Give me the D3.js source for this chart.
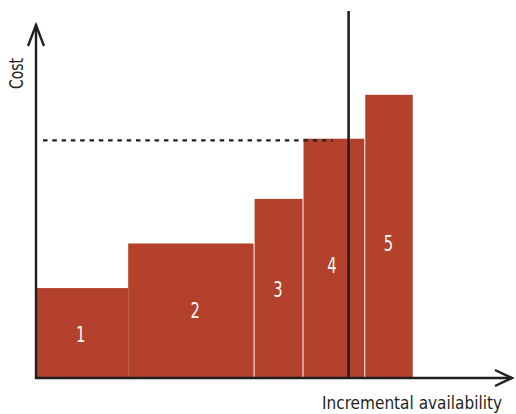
<!DOCTYPE html>
<html><head><meta charset="utf-8">
<script src="https://cdn.jsdelivr.net/npm/d3@7"></script>
<style>html,body{margin:0;padding:0;background:#fff;}svg{display:block;}</style>
</head><body>
<svg id="c" width="516" height="414"></svg>
<script>
// Data (units of incremental availability / cost)
const labels = ["1", "2", "3", "4", "5"];
const capacityEnds = [19.2, 45.6, 55.9, 68.9, 79.1];   // cumulative availability at right edge of each block
const costs = [25.4, 38.0, 50.6, 67.6, 80.0];          // block heights
const labelCost = [10.1, 16.9, 22.9, 29.7, 35.9];      // where each number sits
const labelOffset = [-0.4, 0.9, 0, -0.3, 0];            // x offset of label from block centre
const demandLevel = 65.6;                              // vertical line position
const clearingCost = 67.1;                             // dashed price line
const axisLabels = {x: "Incremental availability", y: "Cost"};

const svg = d3.select("#c");
const x = d3.scaleLinear().domain([0, 100]).range([37, 512]);
const y = d3.scaleLinear().domain([0, 100]).range([378, 24]);
const barColor = "#b3412b";
const ink = "#231f20";

const starts = [0].concat(capacityEnds.slice(0, -1));
const blocks = labels.map((l, i) => ({label: l, x0: starts[i], x1: capacityEnds[i], cost: costs[i], ly: labelCost[i], dx: labelOffset[i]}));

svg.append("g").selectAll("rect").data(blocks).join("rect")
  .attr("x", d => x(d.x0) + (d.x0 > starts[1] ? 1 : 0))
  .attr("y", d => y(d.cost))
  .attr("width", d => x(d.x1) - x(d.x0) - (d.x0 > starts[1] ? 1 : 0))
  .attr("height", d => y(0) - y(d.cost))
  .attr("fill", barColor);

const fontF = "'DejaVu Sans Condensed','Liberation Sans Narrow',sans-serif";

svg.append("g").selectAll("text").data(blocks).join("text")
  .attr("transform", d => `translate(${x((d.x0 + d.x1) / 2 + d.dx)},${y(d.ly)}) scale(0.82,1.05)`)
  .attr("text-anchor", "middle")
  .attr("fill", "#fff")
  .attr("font-family", fontF)
  .attr("font-size", 20)
  .text(d => d.label);

// dashed line
svg.append("line")
  .attr("x1", x(0) + 6).attr("x2", x(62.3))
  .attr("y1", y(clearingCost)).attr("y2", y(clearingCost))
  .attr("stroke", ink).attr("stroke-width", 2.2)
  .attr("stroke-dasharray", "4.5,4.8");

// vertical demand line
svg.append("line")
  .attr("x1", x(demandLevel)).attr("x2", x(demandLevel))
  .attr("y1", y(103.7)).attr("y2", y(0))
  .attr("stroke", ink).attr("stroke-width", 2.6);

// axes
const ax = svg.append("g").attr("stroke", ink).attr("fill", "none").attr("stroke-width", 2.4);
ax.append("line").attr("x1", x(0) - 1).attr("x2", x(0) - 1).attr("y1", y(0) + 1).attr("y2", y(100));
ax.append("line").attr("x1", x(0) - 2).attr("x2", x(100)).attr("y1", y(0)).attr("y2", y(0));
ax.append("path").attr("d", `M${x(0)-9},${y(100)+22} L${x(0)-1},${y(100)+1} L${x(0)+7},${y(100)+22}`)
  .attr("stroke-linejoin", "miter");
ax.append("path").attr("d", `M${x(100)-17},${y(0)-8} L${x(100)},${y(0)} L${x(100)-17},${y(0)+8}`)
  .attr("stroke-linejoin", "miter");

svg.append("text")
  .attr("x", 322).attr("y", 409)
  .attr("fill", ink)
  .attr("font-family", fontF)
  .attr("font-size", 18)
  .attr("textLength", 180)
  .attr("lengthAdjust", "spacingAndGlyphs")
  .text(axisLabels.x);

svg.append("text")
  .attr("transform", "translate(23,89) rotate(-90)")
  .attr("fill", ink)
  .attr("font-family", fontF)
  .attr("font-size", 19)
  .attr("textLength", 31)
  .attr("lengthAdjust", "spacingAndGlyphs")
  .text(axisLabels.y);
</script>
</body></html>
